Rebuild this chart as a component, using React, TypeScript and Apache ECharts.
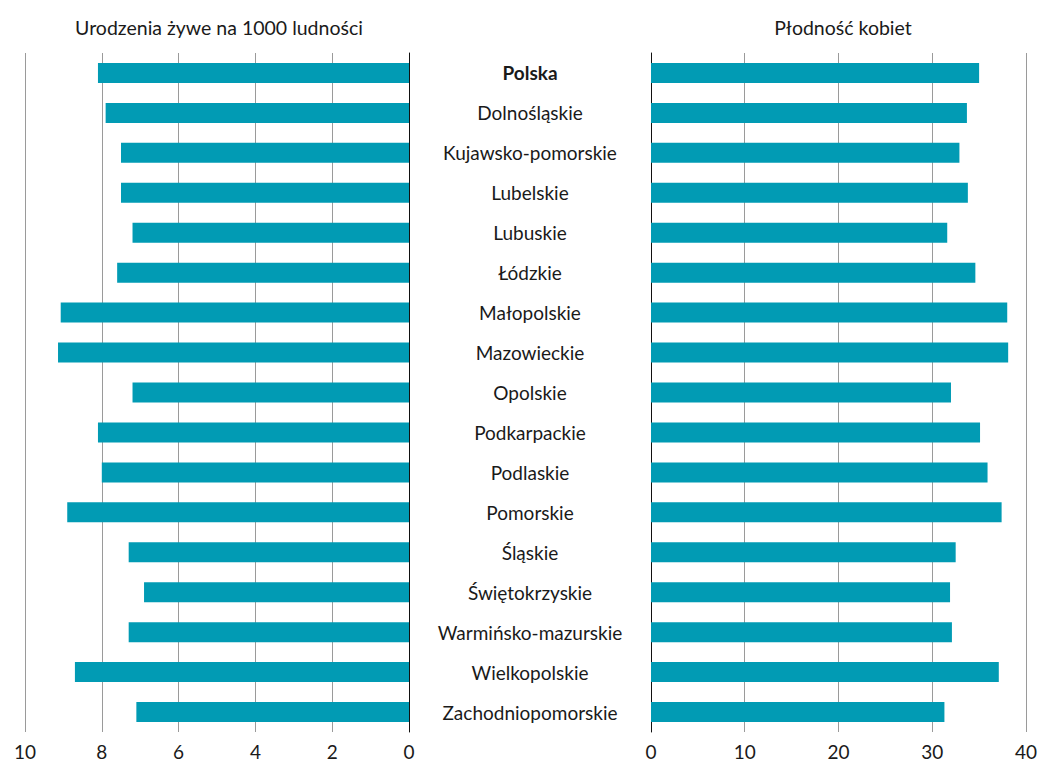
import React, { useEffect, useRef } from "react";
import * as echarts from "echarts";

const categories = [
  "Polska",
  "Dolnośląskie",
  "Kujawsko-pomorskie",
  "Lubelskie",
  "Lubuskie",
  "Łódzkie",
  "Małopolskie",
  "Mazowieckie",
  "Opolskie",
  "Podkarpackie",
  "Podlaskie",
  "Pomorskie",
  "Śląskie",
  "Świętokrzyskie",
  "Warmińsko-mazurskie",
  "Wielkopolskie",
  "Zachodniopomorskie",
];

const birthsPer1000 = [8.1, 7.9, 7.5, 7.5, 7.2, 7.6, 9.07, 9.14, 7.2, 8.1, 8.0, 8.9, 7.3, 6.9, 7.3, 8.7, 7.1];
const fertility = [35.0, 33.7, 32.9, 33.8, 31.6, 34.6, 38.0, 38.1, 32.0, 35.1, 35.9, 37.4, 32.5, 31.9, 32.1, 37.1, 31.3];

const leftTitle = "Urodzenia żywe na 1000 ludności";
const rightTitle = "Płodność kobiet";

const FONT = "Lato, 'Noto Sans', sans-serif";
const TEXT = "#1a1a1a";
const BAR = "#019bb4";

export default function App() {
  const ref = useRef<HTMLDivElement>(null);
  useEffect(() => {
    if (!ref.current) return;
    const chart = echarts.init(ref.current, undefined, { renderer: "svg" });
    const axisLabel = { fontSize: 19, color: TEXT, fontFamily: FONT, margin: 10 };
    chart.setOption({
      animation: false,
      textStyle: { fontFamily: FONT },
      grid: [
        { left: 25, right: 631, top: 53, bottom: 31 },
        { left: 651, right: 10, top: 53, bottom: 31 },
      ],
      xAxis: [
        {
          gridIndex: 0,
          type: "value",
          inverse: true,
          min: 0,
          max: 10,
          interval: 2,
          axisLine: { show: false },
          axisTick: { show: false },
          splitLine: { show: true, lineStyle: { color: "#9a9a9a", width: 1 } },
          axisLabel,
        },
        {
          gridIndex: 1,
          type: "value",
          min: 0,
          max: 40,
          interval: 10,
          axisLine: { show: false },
          axisTick: { show: false },
          splitLine: { show: true, lineStyle: { color: "#9a9a9a", width: 1 } },
          axisLabel,
        },
      ],
      yAxis: [
        {
          gridIndex: 0,
          type: "category",
          data: categories,
          inverse: true,
          position: "right",
          axisLine: { show: true, lineStyle: { color: "#111", width: 1 } },
          axisTick: { show: false },
          axisLabel: {
            margin: 121,
            align: "center",
            fontSize: 19,
            color: TEXT,
            fontFamily: FONT,
            formatter: (v: string) => (v === "Polska" ? `{b|${v}}` : v),
            rich: {
              b: { fontWeight: "bold", fontSize: 19, color: TEXT, fontFamily: FONT },
            },
          },
        },
        {
          gridIndex: 1,
          type: "category",
          data: categories,
          inverse: true,
          position: "left",
          axisLine: { show: true, lineStyle: { color: "#111", width: 1 } },
          axisTick: { show: false },
          axisLabel: { show: false },
        },
      ],
      series: [
        {
          type: "bar",
          xAxisIndex: 0,
          yAxisIndex: 0,
          data: birthsPer1000,
          barWidth: 20,
          itemStyle: { color: BAR },
        },
        {
          type: "bar",
          xAxisIndex: 1,
          yAxisIndex: 1,
          data: fertility,
          barWidth: 20,
          itemStyle: { color: BAR },
        },
      ],
      graphic: [
        {
          type: "text",
          x: 219,
          y: 27,
          style: { text: leftTitle, align: "center", verticalAlign: "middle", fontSize: 19.5, fontFamily: FONT, fill: TEXT },
        },
        {
          type: "text",
          x: 843,
          y: 27,
          style: { text: rightTitle, align: "center", verticalAlign: "middle", fontSize: 19.5, fontFamily: FONT, fill: TEXT },
        },
      ],
    });
    return () => chart.dispose();
  }, []);
  return (
    <div
      ref={ref}
      style={{ position: "absolute", left: 0, top: 0, width: 1040, height: 763 }}
    />
  );
}
